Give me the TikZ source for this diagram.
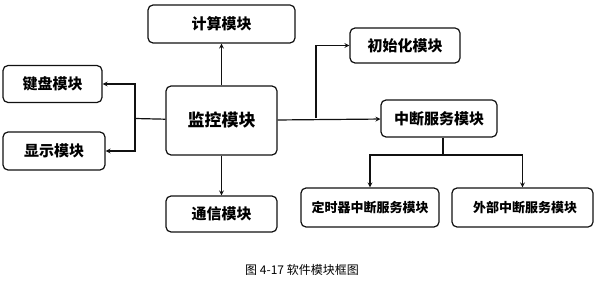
\documentclass[tikz,border=0pt]{standalone}
\usepackage{fontspec}
\usepackage{tikz}
\usetikzlibrary{arrows, positioning, calc}
\newfontfamily\cjk{Noto Sans CJK SC}
\definecolor{lineblack}{HTML}{111111}

\begin{document}
\begin{tikzpicture}[
    x=1pt, y=-1pt,
    modbox/.style={rectangle, draw=lineblack, line width=1.2pt, rounded corners=5pt, align=center, inner sep=0pt, font=\cjk\bfseries\fontsize{15}{17}\selectfont},
    smallbox/.style={modbox, font=\cjk\bfseries\fontsize{13}{15}\selectfont},
    arrow/.style={line width=1.2pt, ->, >=stealth, draw=lineblack},
    line/.style={line width=1.2pt, draw=lineblack}
]
    \useasboundingbox (0,0) rectangle (597,286);

    % Nodes
    \node[modbox, minimum width=147pt, minimum height=38pt] (calc) at (221.5,24) {计算模块};
    \node[modbox, minimum width=111pt, minimum height=69pt, font=\cjk\bfseries\fontsize{17}{19}\selectfont] (monitor) at (221.5,120.5) {监控模块};
    \node[modbox, minimum width=99pt, minimum height=37pt] (keyboard) at (52.5,84) {键盘模块};
    \node[modbox, minimum width=102pt, minimum height=38pt] (display) at (54,151) {显示模块};
    \node[modbox, minimum width=111pt, minimum height=36pt] (comm) at (221.5,214) {通信模块};
    \node[modbox, minimum width=110pt, minimum height=35pt] (init) at (405,45.5) {初始化模块};
    \node[modbox, minimum width=116pt, minimum height=37pt] (intr) at (439,118.5) {中断服务模块};
    \node[smallbox, minimum width=138pt, minimum height=39pt] (timer) at (370,207.5) {定时器中断服务模块};
    \node[smallbox, minimum width=141pt, minimum height=39pt] (ext) at (522.5,207.5) {\hspace{5pt}外部中断服务模块};
    \node[font=\cjk\fontsize{12}{14}\selectfont] (caption) at (302,270) {图 4-17 软件模块框图};

    \coordinate (jleft) at (135,118.5);
    \coordinate (jright) at (316,118.5);
    \coordinate (jdown) at (443,155);

    % Connections
    \draw[arrow] (monitor) -- (calc);
    \draw[arrow] (monitor) -- (comm);
    \draw[line] (monitor) -- (jleft);
    \draw[arrow] (jleft) |- (keyboard);
    \draw[arrow] (jleft) |- (display);
    \draw[arrow] (monitor) -- (intr);
    \draw[arrow] (jright) |- (init);
    \draw[line] (intr.south -| jdown) -- (jdown);
    \draw[arrow] (jdown) -| (timer);
    \draw[arrow] (jdown) -| (ext);
\end{tikzpicture}
\end{document}
